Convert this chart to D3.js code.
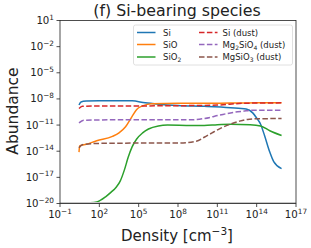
<!DOCTYPE html>
<html><head><meta charset="utf-8">
<script src="https://cdn.jsdelivr.net/npm/d3@7"></script>
<style>body{margin:0;background:#fff}svg{display:block;font-family:"DejaVu Sans",sans-serif}</style>
</head><body><svg id="c" width="311" height="248"></svg>
<script>
// log10(density), log10(abundance)
const si = [[0.45,-8.7],[0.6,-8.35],[1,-8.25],[2,-8.2],[3,-8.2],[4,-8.2],[4.5,-8.22],[5.5,-8.45],[6.5,-8.6],[8,-8.75],[10,-8.85],[12,-9.0],[13.2,-9.15],[13.7,-9.6],[14,-10.2],[14.3,-10.9],[14.6,-12.2],[15,-14.1],[15.3,-15.2],[15.9,-16.0]];
const sio = [[0.45,-14.1],[0.5,-13.4],[1,-13.2],[1.8,-12.8],[3,-12.3],[3.5,-11.9],[4,-11.2],[4.5,-10.0],[4.85,-9.2],[5.3,-8.8],[6,-8.55],[8,-8.5],[10,-8.5],[12,-8.47],[14,-8.45],[15.9,-8.43]];
const sio2 = [[0.45,-20.2],[0.8,-19.99],[1.8,-19.82],[2.5,-19.2],[2.9,-18.7],[3.3,-18.1],[3.6,-17.4],[3.9,-16.2],[4.2,-14.7],[4.5,-13.5],[4.85,-12.6],[5.3,-11.9],[5.75,-11.45],[6.5,-11.1],[7.2,-11.0],[9,-11.05],[10,-11.05],[11,-10.95],[12,-10.9],[13.5,-10.95],[14.3,-11.1],[15,-11.65],[15.9,-12.2]];
const siDust = [[0.45,-9.1],[0.7,-8.85],[2,-8.8],[5,-8.8],[8,-8.78],[11,-8.7],[13,-8.5],[15.9,-8.45]];
const mg2sio4 = [[0.45,-10.75],[0.8,-10.45],[3,-10.4],[6,-10.4],[9,-10.4],[10,-10.25],[11.2,-9.85],[12.2,-9.55],[13,-9.4],[13.6,-9.3],[15.9,-9.3]];
const mgsio3 = [[0.45,-13.6],[0.7,-13.25],[2,-13.1],[5,-13.07],[8,-13.07],[9.4,-12.85],[10,-12.4],[10.6,-11.9],[11.2,-11.4],[12,-10.9],[12.7,-10.55],[13.3,-10.35],[14,-10.28],[15.9,-10.25]];
const xTickExp = [-1,2,5,8,11,14,17];
const yTickExp = [1,-2,-5,-8,-11,-14,-17,-20];
const series = [
  {name:"Si", sub:null, tail:"", data:si, color:"#1f77b4", dash:null},
  {name:"SiO", sub:null, tail:"", data:sio, color:"#ff7f0e", dash:null},
  {name:"SiO", sub:"2", tail:"", data:sio2, color:"#2ca02c", dash:null},
  {name:"Si (dust)", sub:null, tail:"", data:siDust, color:"#d62728", dash:"5.5,2.4"},
  {name:"Mg", sub:"2", tail:"SiO|4| (dust)", data:mg2sio4, color:"#9467bd", dash:"5.5,2.4"},
  {name:"MgSiO", sub:"3", tail:" (dust)", data:mgsio3, color:"#8c564b", dash:"5.5,2.4"}
];
const L=60,R=296,T=20.5,B=203.5;
const svg=d3.select("#c");
const x=d3.scaleLog().domain([1e-1,1e17]).range([L,R]);
const y=d3.scaleLog().domain([1e-20,1e1]).range([B,T]);
svg.append("defs").append("clipPath").attr("id","clip").append("rect").attr("x",L).attr("y",T).attr("width",R-L).attr("height",B-T);
const line=d3.line().x(d=>x(Math.pow(10,d[0]))).y(d=>y(Math.pow(10,d[1]))).curve(d3.curveMonotoneX);
const g=svg.append("g").attr("clip-path","url(#clip)");
series.forEach(s=>{
  g.append("path").attr("d",line(s.data)).attr("fill","none").attr("stroke",s.color).attr("stroke-width",1.5)
   .attr("stroke-dasharray",s.dash);
});
// bottom gray band
svg.append("line").attr("x1",L).attr("x2",R).attr("y1",B-0.5).attr("y2",B-0.5).attr("stroke","#c8c8c8").attr("stroke-width",2);
// frame
svg.append("rect").attr("x",L).attr("y",T).attr("width",R-L).attr("height",B-T).attr("fill","none").attr("stroke","#222").attr("stroke-width",0.8);
// ticks
function sup(sel,e){
  sel.append("tspan").text("10");
  sel.append("tspan").attr("font-size",7.3).attr("dy",-4.5).text(String(e).replace("-","\u2212"));
}
xTickExp.forEach(e=>{
  const px=x(Math.pow(10,e));
  svg.append("line").attr("x1",px).attr("x2",px).attr("y1",B).attr("y2",B+3.5).attr("stroke","#222").attr("stroke-width",0.8);
  const t=svg.append("text").attr("x",px).attr("y",B+14.5).attr("text-anchor","middle").attr("font-size",10.2).attr("fill","#222");
  sup(t,e);
});
yTickExp.forEach(e=>{
  const py=y(Math.pow(10,e));
  svg.append("line").attr("x1",L-3.5).attr("x2",L).attr("y1",py).attr("y2",py).attr("stroke","#222").attr("stroke-width",0.8);
  const t=svg.append("text").attr("x",L-6).attr("y",py+3.5).attr("text-anchor","end").attr("font-size",10.2).attr("fill","#222");
  sup(t,e);
});
// title and labels
svg.append("text").attr("x",177).attr("y",15.5).attr("text-anchor","middle").attr("font-size",15.8).attr("fill","#222").text("(f) Si-bearing species");
const xl=svg.append("text").attr("x",177).attr("y",240.5).attr("text-anchor","middle").attr("font-size",15).attr("fill","#222");
xl.append("tspan").text("Density [cm");
xl.append("tspan").attr("font-size",10.5).attr("dy",-6).text("\u22123");
xl.append("tspan").attr("dy",6).text("]");
svg.append("text").attr("transform","translate(17.5,111) rotate(-90)").attr("text-anchor","middle").attr("font-size",15.5).attr("fill","#222").text("Abundance");
// legend
const lg=svg.append("g");
lg.append("rect").attr("x",133.5).attr("y",25).attr("width",159).attr("height",40).attr("rx",2).attr("fill","#fff").attr("fill-opacity",0.8).attr("stroke","#d8d8d8").attr("stroke-width",0.8);
const rows=[32.5,44.5,57];
series.forEach((s,i)=>{
  const col=Math.floor(i/3), row=i%3;
  const hx=col?199:137, tx=col?222.5:163;
  const yy=rows[row];
  lg.append("line").attr("x1",hx).attr("x2",hx+18.5).attr("y1",yy).attr("y2",yy).attr("stroke",s.color).attr("stroke-width",1.5).attr("stroke-dasharray",s.dash);
  const t=lg.append("text").attr("x",tx).attr("y",yy+3.2).attr("font-size",8.5).attr("fill","#222");
  t.append("tspan").text(s.name);
  if(s.sub){
    t.append("tspan").attr("font-size",6).attr("dy",1.8).text(s.sub);
    const parts=s.tail.split("|");
    if(parts.length===3){
      t.append("tspan").attr("dy",-1.8).text(parts[0]);
      t.append("tspan").attr("font-size",6).attr("dy",1.8).text(parts[1]);
      t.append("tspan").attr("dy",-1.8).text(parts[2]);
    } else if(s.tail){
      t.append("tspan").attr("dy",-1.8).text(s.tail);
    }
  }
});
</script></body></html>
